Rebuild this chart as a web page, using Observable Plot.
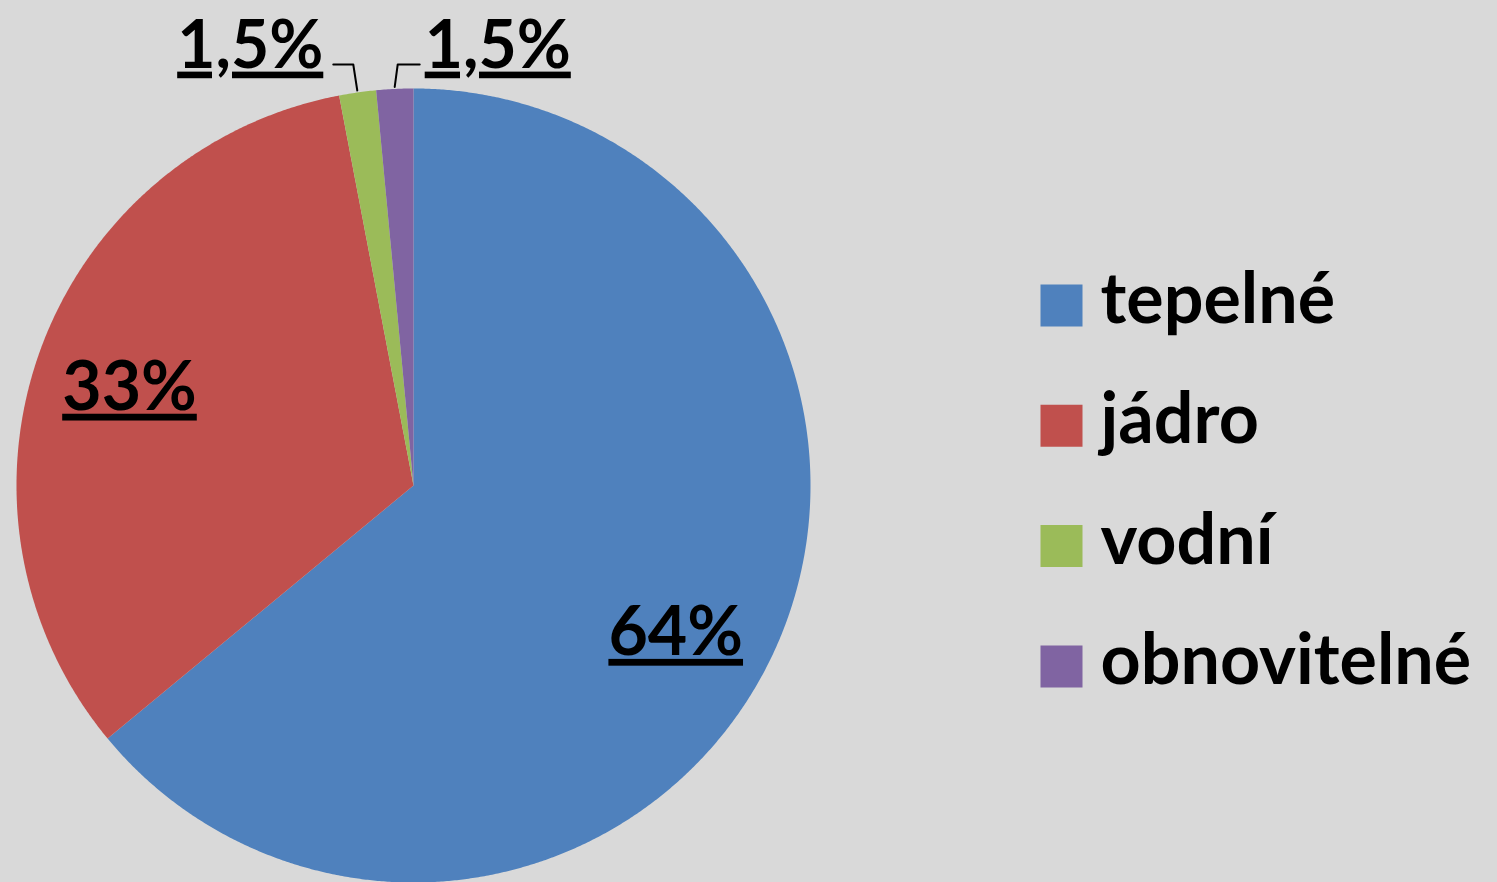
<!DOCTYPE html>
<html>
<head>
<meta charset="utf-8">
<script src="https://cdn.jsdelivr.net/npm/d3@7"></script>
<script src="https://cdn.jsdelivr.net/npm/@observablehq/plot@0.6"></script>
<style>
  html, body { margin: 0; padding: 0; background: #d9d9d9; }
  #chart svg { display: block; }
</style>
</head>
<body>
<div id="chart"></div>
<script>
// ---- data ----
const categories = ["tepelné", "jádro", "vodní", "obnovitelné"];
const shares = [64, 33, 1.5, 1.5];
const labelTexts = ["64%", "33%", "1,5%", "1,5%"];
const colors = ["#4F81BD", "#C0504D", "#9BBB59", "#8064A2"];
const labelPlacement = ["inside", "inside", "outside-left", "outside-right"];
const labelNudge = [[-9, 14], [-2, -2], [0, 0], [0, 0]];

// ---- layout ----
const W = 1497, H = 882;
const cx = 413, cy = 485, R = 397;
const FONT = "Lato, 'Open Sans', sans-serif";

const pie = d3.pie().sort(null).value(d => d)(shares);

// slice polygons
const slicePts = [];
pie.forEach((p, i) => {
  const steps = Math.max(4, Math.ceil((p.endAngle - p.startAngle) / 0.005));
  slicePts.push({name: categories[i], x: cx, y: cy});
  for (let k = 0; k <= steps; k++) {
    const a = p.startAngle + (p.endAngle - p.startAngle) * k / steps;
    slicePts.push({name: categories[i], x: cx + R * Math.sin(a), y: cy - R * Math.cos(a)});
  }
});

// labels and leaders
const labels = [];
const leaders = [];
pie.forEach((p, i) => {
  const mid = (p.startAngle + p.endAngle) / 2;
  if (labelPlacement[i] === "inside") {
    const rr = R * 0.755;
    labels.push({text: labelTexts[i], x: cx + rr * Math.sin(mid) + labelNudge[i][0], y: cy - rr * Math.cos(mid) + 6 + labelNudge[i][1], anchor: "middle"});
  } else {
    const left = labelPlacement[i] === "outside-left";
    const ex = cx + (R + 2) * Math.sin(mid), ey = cy - (R + 2) * Math.cos(mid);
    const bx = ex + (left ? -4 : 3), by = cy - R - 24;
    const hx = bx + (left ? -20 : 22);
    leaders.push({g: i, x: ex, y: ey}, {g: i, x: bx, y: by}, {g: i, x: hx, y: by});
    labels.push({text: labelTexts[i], x: hx + (left ? -10 : 5), y: by - 18, anchor: left ? "end" : "start"});
  }
});

const legend = categories.map((c, i) => ({name: c, i}));

const svg = Plot.plot({
  width: W,
  height: H,
  margin: 0,
  style: {background: "#d9d9d9", fontFamily: FONT},
  x: {type: "identity", axis: null},
  y: {type: "identity", axis: null},
  color: {domain: categories, range: colors},
  marks: [
    Plot.line(slicePts, {x: "x", y: "y", z: "name", fill: "name", stroke: "none", curve: "linear-closed"}),
    Plot.line(leaders, {x: "x", y: "y", z: "g", stroke: "#000", strokeWidth: 2}),
    Plot.text(labels.filter(d => d.anchor === "middle"), {x: "x", y: "y", text: "text", fontSize: 68, fontWeight: "bold", fill: "#000"}),
    Plot.text(labels.filter(d => d.anchor === "end"), {x: "x", y: "y", text: "text", textAnchor: "end", fontSize: 66, fontWeight: "bold", fill: "#000"}),
    Plot.text(labels.filter(d => d.anchor === "start"), {x: "x", y: "y", text: "text", textAnchor: "start", fontSize: 66, fontWeight: "bold", fill: "#000"}),
    Plot.dot(legend, {x: () => 1061, y: d => 305 + d.i * 120.3, symbol: "square", r: 42 / Math.sqrt(Math.PI), fill: "name", stroke: "none"}),
    Plot.text(legend, {x: () => 1100, y: d => 300 + d.i * 120.3, text: "name", textAnchor: "start", fontSize: 70, fontWeight: "bold", fill: "#000"})
  ]
});

d3.select(svg).selectAll("text")
  .filter(function () { return labelTexts.includes(this.textContent); })
  .attr("text-decoration", "underline")
  .style("text-decoration", "underline")
  .style("text-decoration-thickness", "5px")
  .style("text-underline-offset", "4px")
  .style("text-decoration-skip-ink", "none");
document.getElementById("chart").appendChild(svg);
</script>
</body>
</html>
